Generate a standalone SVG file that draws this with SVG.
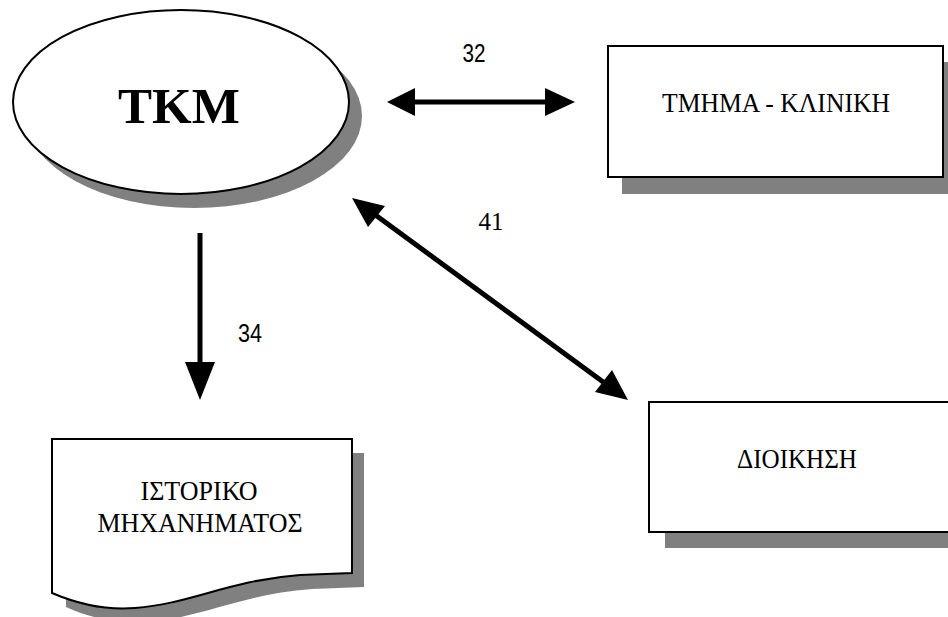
<svg xmlns="http://www.w3.org/2000/svg" width="948" height="617" viewBox="0 0 948 617">
  <style>
    .shadow { fill: #808080; stroke: none; }
    .shape { fill: #ffffff; stroke: #000000; stroke-width: 2; }
    .label { font-family: "Liberation Serif", "Times New Roman", serif; font-size: 27px; fill: #000; text-anchor: middle; }
    .num { font-family: "Liberation Sans", Arial, sans-serif; font-size: 25px; fill: #000; text-anchor: middle; }
    .conn { stroke: #000; stroke-width: 5; fill: none; }
    .head { fill: #000; stroke: none; }
  </style>

  <rect width="948" height="617" fill="#ffffff"/>

  <!-- central process -->
  <g id="tkm">
    <ellipse class="shadow" cx="194" cy="116" rx="168" ry="92"/>
    <ellipse class="shape" cx="181" cy="102" rx="168" ry="92"/>
    <text x="179" y="123" font-family="Liberation Serif, Times New Roman, serif" font-weight="bold" font-size="51" text-anchor="middle">TKM</text>
  </g>

  <!-- department / clinic -->
  <g id="tmhma-kliniki">
    <rect class="shadow" x="622" y="62" width="335" height="132"/>
    <rect class="shape" x="608" y="46" width="335" height="131"/>
    <text class="label" x="776" y="112" textLength="228" lengthAdjust="spacingAndGlyphs">ΤΜΗΜΑ - ΚΛΙΝΙΚΗ</text>
  </g>

  <!-- administration -->
  <g id="dioikisi">
    <rect class="shadow" x="665" y="418" width="300" height="130"/>
    <rect class="shape" x="649" y="402" width="310" height="130"/>
    <text class="label" x="797" y="468" textLength="120" lengthAdjust="spacingAndGlyphs">ΔΙΟΙΚΗΣΗ</text>
  </g>

  <!-- machine history document -->
  <g id="istoriko">
    <path class="shadow" d="M66 453 H364 V587 L312 589 C242 594 202 618 147 622 C122 624 92 619 66 607 Z"/>
    <path class="shape" d="M52 439 H352 V573 L300 575 C230 580 190 604 135 608 C110 610 80 605 52 593 Z"/>
    <text class="label" x="199" y="500" textLength="117" lengthAdjust="spacingAndGlyphs">ΙΣΤΟΡΙΚΟ</text>
    <text class="label" x="200" y="532" textLength="205" lengthAdjust="spacingAndGlyphs">ΜΗΧΑΝΗΜΑΤΟΣ</text>
  </g>

  <!-- connectors -->
  <g id="connectors">
    <!-- 32: TKM <-> ΤΜΗΜΑ - ΚΛΙΝΙΚΗ -->
    <line class="conn" x1="412" y1="102" x2="550" y2="102"/>
    <polygon class="head" points="387,102 415,88 415,116"/>
    <polygon class="head" points="575,102 545,88 545,116"/>
    <text class="num" x="474" y="62" textLength="23" lengthAdjust="spacingAndGlyphs">32</text>

    <!-- 34: TKM -> ΙΣΤΟΡΙΚΟ -->
    <line class="conn" x1="200" y1="233" x2="200" y2="365" stroke-width="4"/>
    <polygon class="head" points="200,400 185,362 215,362"/>
    <text class="num" x="250" y="342" textLength="24" lengthAdjust="spacingAndGlyphs">34</text>

    <!-- 41: TKM <-> ΔΙΟΙΚΗΣΗ -->
    <line class="conn" x1="370" y1="211" x2="610" y2="387"/>
    <polygon class="head" points="352,198 385,206 368,227"/>
    <polygon class="head" points="628,400 595,392 612,370"/>
    <text x="491" y="230" font-family="Liberation Serif, Times New Roman, serif" font-size="25" text-anchor="middle">41</text>
  </g>
</svg>
